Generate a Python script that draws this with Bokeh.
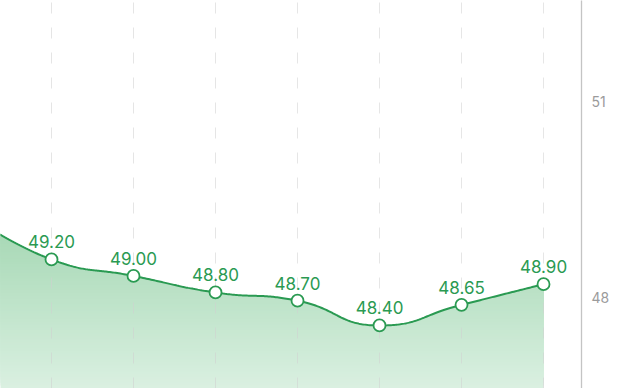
import math
import numpy as np
from bokeh.plotting import figure
from bokeh.models import Range1d, LinearAxis, FixedTicker, ColumnDataSource, LabelSet
from bokeh.core.properties import value
from bokeh.embed import file_html
from bokeh.resources import INLINE

# ---- data ----
x_idx = [-1, 0, 1, 2, 3, 4, 5, 6]
values = [49.74, 49.20, 49.00, 48.80, 48.70, 48.40, 48.65, 48.90]
point_labels = ["%.2f" % v for v in values]
axis_ticks = [48, 51]

GREEN = "#2a9a52"
TOP_RGB = (162, 214, 177)
BOT_RGB = (218, 240, 225)

X_RANGE = (-0.622, 6.463)
Y_RANGE = (47.636, 52.339)
AXIS_RANGE = (46.607, 52.546)
KX, KY = 82.0, 82.5  # pixel scale factors used for smoothing geometry


def smooth_curve(xs, ys, smooth=0.5, n=60):
    px = [x * KX for x in xs]
    py = [y * KY for y in ys]
    N = len(px)
    ox, oy = [px[0]], [py[0]]
    cp0 = (px[0], py[0])
    t = np.linspace(0, 1, n)[1:]
    for i in range(1, N):
        x, y = px[i], py[i]
        pX, pY = px[i - 1], py[i - 1]
        if i + 1 >= N:
            cp1 = (x, y)
            ncp0 = (x, y)
        else:
            nX, nY = px[i + 1], py[i + 1]
            vx, vy = nX - pX, nY - pY
            lp = math.hypot(x - pX, y - pY)
            ln = math.hypot(nX - x, nY - y)
            r = ln / (ln + lp)
            ncx = x + vx * smooth * r
            ncy = y + vy * smooth * r
            ncx = max(min(ncx, max(nX, x)), min(nX, x))
            ncy = max(min(ncy, max(nY, y)), min(nY, y))
            vx, vy = ncx - x, ncy - y
            c1x = x - vx * lp / ln
            c1y = y - vy * lp / ln
            c1x = max(min(c1x, max(pX, x)), min(pX, x))
            c1y = max(min(c1y, max(pY, y)), min(pY, y))
            vx, vy = x - c1x, y - c1y
            ncx = x + vx * ln / lp
            ncy = y + vy * ln / lp
            cp1 = (c1x, c1y)
            ncp0 = (ncx, ncy)
        a = (1 - t) ** 3
        b = 3 * (1 - t) ** 2 * t
        c = 3 * (1 - t) * t ** 2
        d = t ** 3
        ox.extend(a * pX + b * cp0[0] + c * cp1[0] + d * x)
        oy.extend(a * pY + b * cp0[1] + c * cp1[1] + d * y)
        cp0 = ncp0
    return np.array(ox) / KX, np.array(oy) / KY


cx, cy = smooth_curve(x_idx, values)

p = figure(width=640, height=388, frame_width=581, frame_height=388,
           x_range=Range1d(*X_RANGE), y_range=Range1d(*Y_RANGE),
           x_axis_location=None, y_axis_location=None,
           output_backend="svg", toolbar_location=None,
           min_border_left=0, min_border_top=0, min_border_bottom=0,
           min_border_right=59)
p.outline_line_color = None
p.xgrid.visible = False
p.ygrid.visible = False
p.background_fill_color = "white"
p.border_fill_color = "white"

# gradient area (cumulative opaque bands)
y0 = Y_RANGE[0]
ytop = max(values)
K = 60


def col(v):
    f = (v - y0) / (ytop - y0)
    f = min(max(f, 0), 1)
    r = [int(round(BOT_RGB[j] + (TOP_RGB[j] - BOT_RGB[j]) * f)) for j in range(3)]
    return "#%02x%02x%02x" % tuple(r)


for k in range(K):
    lo = y0 + (ytop - y0) * k / K
    p.varea(x=cx, y1=np.minimum(cy, lo), y2=cy, fill_color=col(lo + (ytop - y0) / (2 * K)),
            fill_alpha=1.0)

# dashed vertical grid lines
gx = [x for x in x_idx if x >= 0]
p.segment(x0=gx, x1=gx, y0=[Y_RANGE[0]] * len(gx), y1=[Y_RANGE[1]] * len(gx),
          line_color="#cfcfcf", line_alpha=0.55, line_width=1, line_dash="11 14")

p.line(cx, cy, line_color=GREEN, line_width=2)
src = ColumnDataSource(dict(x=x_idx, y=values, t=point_labels))
p.scatter("x", "y", source=src, size=12, fill_color="white", line_color=GREEN, line_width=1.8)

vis = [i for i, x in enumerate(x_idx) if x >= 0]
lab_src = ColumnDataSource(dict(x=[x_idx[i] for i in vis], y=[values[i] for i in vis],
                                t=[point_labels[i] for i in vis]))
labels = LabelSet(x="x", y="y", text="t", source=lab_src, y_offset=11,
                  text_align="center", text_baseline="alphabetic",
                  text_font=value("Inter"), text_font_size=value("17px"),
                  text_color=GREEN)
p.add_layout(labels)

p.extra_y_ranges = {"axis": Range1d(*AXIS_RANGE)}
ax = LinearAxis(y_range_name="axis", ticker=FixedTicker(ticks=axis_ticks))
ax.axis_line_color = "#c4c4c4"
ax.axis_line_width = 1.3
ax.major_tick_line_color = None
ax.minor_tick_line_color = None
ax.major_tick_out = 0
ax.major_tick_in = 0
ax.major_label_standoff = 10
ax.major_label_text_color = "#9b9b9b"
ax.major_label_text_font = "Inter"
ax.major_label_text_font_size = "14px"
p.add_layout(ax, "right")

open("out.html", "w").write(file_html(p, INLINE))
